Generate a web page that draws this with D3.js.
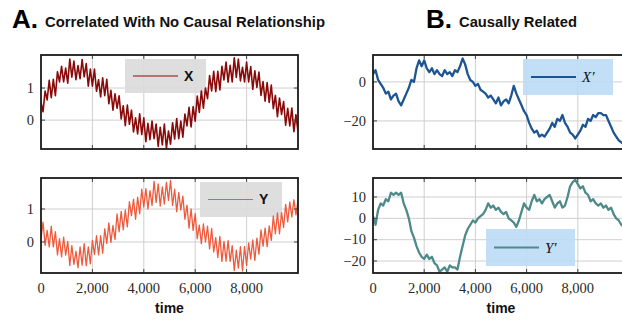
<!DOCTYPE html>
<html><head><meta charset="utf-8">
<script src="https://cdn.jsdelivr.net/npm/d3@7"></script>
<style>body{margin:0;background:#fff}svg{display:block}</style>
</head><body>
<svg id="c" width="622" height="323"></svg>
<script>
// ---- data ----
const stepXY = 80;     // sampling interval of X and Y (time units)
const stepWalk = 100;  // sampling interval of X' and Y'
const timeMax = 10000;
const seriesX = [0.55,0.26,0.91,0.63,1.24,0.70,1.27,0.76,1.51,1.19,1.68,1.19,1.62,1.15,1.90,1.34,1.84,1.26,1.70,1.29,
1.89,1.35,1.76,1.06,1.59,1.06,1.59,0.90,1.26,0.72,1.32,0.76,1.27,0.51,0.93,0.31,0.82,0.37,0.76,0.04,
0.45,-0.17,0.47,-0.13,0.31,-0.37,0.07,-0.43,0.20,-0.45,0.07,-0.67,-0.10,-0.61,-0.03,-0.58,-0.12,-0.82,-0.22,-0.77,
-0.12,-0.88,-0.34,-0.75,-0.08,-0.59,0.05,-0.58,-0.03,-0.53,0.19,-0.18,0.40,-0.21,0.42,-0.03,0.75,0.24,0.91,0.37,
1.00,0.67,1.39,0.91,1.52,0.89,1.52,0.94,1.68,1.25,1.81,1.18,1.71,1.19,1.94,1.33,1.90,1.22,1.65,1.19,
1.81,1.19,1.67,0.96,1.54,1.02,1.50,0.77,1.20,0.59,1.17,0.55,1.09,0.36,0.77,0.11,0.69,0.18,0.58,-0.16,
0.37,-0.18,0.38,-0.36,0.17,-0.35];
const seriesY = [0.10,0.60,-0.10,0.35,-0.15,0.48,-0.15,0.31,-0.39,0.10,-0.45,0.15,-0.40,0.02,-0.71,-0.11,-0.68,-0.28,-0.78,-0.15,
-0.70,-0.05,-0.72,-0.15,-0.66,0.05,-0.38,0.19,-0.39,0.19,-0.34,0.40,-0.04,0.58,-0.01,0.50,0.08,0.85,0.31,0.93,
0.37,0.97,0.46,1.22,0.80,1.30,0.69,1.36,0.86,1.60,1.06,1.62,1.00,1.56,1.11,1.84,1.20,1.76,1.09,1.67,
1.15,1.81,1.26,1.87,1.11,1.60,0.92,1.50,0.97,1.39,0.69,1.12,0.42,1.00,0.35,0.86,0.10,0.51,-0.05,0.55,
0.00,0.48,-0.21,0.41,-0.30,0.13,-0.47,0.17,-0.59,0.02,-0.58,0.04,-0.59,-0.11,-0.87,-0.25,-0.79,-0.14,-0.88,-0.14,
-0.71,-0.03,-0.52,0.06,-0.56,0.12,-0.37,0.37,-0.13,0.42,-0.14,0.49,0.05,0.79,0.25,0.88,0.25,0.89,0.44,1.14,
0.61,1.21,0.76,1.28,0.82,1.26];
const seriesXp = [4,6,1,-1,-3,-6,-5,-9,-7,-6,-10,-12,-9,-6,-3,1,0,7,11,8,
11,7,5,7,4,6,4,3,6,4,5,3,6,5,8,12,9,4,1,0,
-2,-1,-4,-5,-6,-8,-7,-9,-11,-8,-12,-10,-9,-11,-7,-2,-6,-9,-12,-15,
-17,-21,-24,-26,-25,-28,-27,-28,-26,-24,-21,-23,-19,-20,-17,-21,-23,-26,-27,-29,
-27,-25,-22,-23,-19,-20,-17,-18,-16,-16,-17,-17,-20,-23,-26,-28,-30,-31,-32,-31,-32];
const seriesYp = [1,-3,4,7,6,9,8,12,11,12,11,12,7,4,0,-6,-9,-13,-16,-18,
-19,-17,-19,-18,-21,-22,-25,-24,-23,-25,-22,-23,-23,-24,-18,-13,-8,-5,-3,-1,
-2,0,1,2,4,7,5,6,4,5,3,2,3,0,-1,-2,-4,-1,3,7,
5,4,8,11,8,9,7,9,10,11,8,5,7,8,5,6,10,15,17,18,
16,14,15,12,11,8,9,7,6,7,5,6,4,5,2,0,-1,-3,-4,-4,-5];
const timeTicks = [0,2000,4000,6000,8000];
const ticksX = [0,1], ticksY = [0,1], ticksXp = [-20,0], ticksYp = [-20,-10,0,10];
const domainX = [-0.9,2.03], domainY = [-0.94,1.94], domainXp = [-34.4,13.8], domainYp = [-25.6,18.9];
const labels = ["X","Y","X\u2032","Y\u2032"];
const titles = [["A.","Correlated With No Causal Relationship"],["B.","Causally Related"]];
const axisLabel = "time";

// ---- layout ----
const svg = d3.select("#c");
const colA = [41,298], colB = [373,629];
const rowTop = [55,149], rowBot = [178,273];
const panels = [
  {data:seriesX, step:stepXY, dom:domainX, ticks:ticksX, col:colA, row:rowTop, color:"#8a0a0a", sw:1.6, lw:1, label:labels[0], legend:{x:125,y:59,w:81,h:34}, bg:"#dadada", serif:false},
  {data:seriesY, step:stepXY, dom:domainY, ticks:ticksY, col:colA, row:rowBot, color:"#ef5a3c", sw:1.3, lw:1, label:labels[1], legend:{x:200,y:182,w:82,h:35}, bg:"#dadada", serif:false},
  {data:seriesXp, step:stepWalk, dom:domainXp, ticks:ticksXp, col:colB, row:rowTop, color:"#1d5592", sw:2.3, lw:2, label:labels[2], legend:{x:523,y:59,w:90,h:36}, bg:"#bddcf7", serif:true},
  {data:seriesYp, step:stepWalk, dom:domainYp, ticks:ticksYp, col:colB, row:rowBot, color:"#4f8a8b", sw:2.3, lw:2, label:labels[3], legend:{x:486,y:229,w:89,h:37}, bg:"#bddcf7", serif:true},
];
const fmt = d3.format(",");
const defs = svg.append("defs");

panels.forEach((p,i)=>{
  const x = d3.scaleLinear().domain([0,timeMax]).range(p.col);
  const y = d3.scaleLinear().domain(p.dom).range([p.row[1],p.row[0]]);
  const g = svg.append("g");
  const cid = "clip"+i;
  defs.append("clipPath").attr("id",cid).append("rect")
    .attr("x",p.col[0]).attr("y",p.row[0]).attr("width",p.col[1]-p.col[0]).attr("height",p.row[1]-p.row[0]);
  // grid
  g.append("g").selectAll("line").data(timeTicks.slice(1)).join("line")
    .attr("x1",d=>x(d)).attr("x2",d=>x(d)).attr("y1",p.row[0]).attr("y2",p.row[1])
    .attr("stroke","#cfcfcf").attr("stroke-width",1);
  g.append("g").selectAll("line").data(p.ticks).join("line")
    .attr("x1",p.col[0]).attr("x2",p.col[1]).attr("y1",d=>y(d)).attr("y2",d=>y(d))
    .attr("stroke","#cfcfcf").attr("stroke-width",1);
  // legend box
  g.append("rect").attr("x",p.legend.x).attr("y",p.legend.y).attr("width",p.legend.w).attr("height",p.legend.h)
    .attr("fill",p.bg).attr("opacity",0.9);
  // series
  const line = d3.line().x((d,k)=>x(k*p.step)).y(d=>y(d));
  g.append("path").datum(p.data).attr("d",line).attr("fill","none")
    .attr("stroke",p.color).attr("stroke-width",p.sw).attr("stroke-linejoin","round")
    .attr("clip-path",`url(#${cid})`);
  // legend content
  const ly = p.legend.y + p.legend.h/2;
  g.append("line").attr("x1",p.legend.x+8).attr("x2",p.legend.x+53).attr("y1",ly).attr("y2",ly)
    .attr("stroke",p.color).attr("stroke-width",p.lw);
  g.append("text").attr("x",p.legend.x+59).attr("y",ly).attr("dy","0.35em")
    .attr("font-family",p.serif?"Liberation Serif, serif":"Liberation Sans, Arial, sans-serif")
    .attr("font-style",p.serif?"italic":"normal").attr("font-weight",p.serif?"normal":"bold")
    .attr("font-size",p.serif?15:14).attr("fill","#111").text(p.label);
  // inside tick marks
  const tk = g.append("g").attr("stroke","#444").attr("stroke-width",1);
  timeTicks.slice(1).forEach(t=>{
    tk.append("line").attr("x1",x(t)).attr("x2",x(t)).attr("y1",p.row[1]).attr("y2",p.row[1]-4);
    tk.append("line").attr("x1",x(t)).attr("x2",x(t)).attr("y1",p.row[0]).attr("y2",p.row[0]+4);
  });
  p.ticks.forEach(v=>{
    tk.append("line").attr("x1",p.col[0]).attr("x2",p.col[0]+4).attr("y1",y(v)).attr("y2",y(v));
    tk.append("line").attr("x1",p.col[1]).attr("x2",p.col[1]-4).attr("y1",y(v)).attr("y2",y(v));
  });
  // frame
  g.append("rect").attr("x",p.col[0]).attr("y",p.row[0]).attr("width",p.col[1]-p.col[0]).attr("height",p.row[1]-p.row[0])
    .attr("fill","none").attr("stroke","#1a1a1a").attr("stroke-width",1.8);
  // y tick labels
  g.append("g").selectAll("text").data(p.ticks).join("text")
    .attr("x",p.col[0]-7).attr("y",d=>y(d)).attr("dy","0.33em").attr("text-anchor","end")
    .attr("font-family","Liberation Serif, serif").attr("font-size",14.5).attr("fill","#2a2a2a")
    .text(d=>fmt(d).replace("-","\u2212"));
  // x tick labels for bottom row
  if (p.row===rowBot){
    g.append("g").selectAll("text").data(timeTicks).join("text")
      .attr("x",d=>x(d)).attr("y",293).attr("text-anchor","middle")
      .attr("font-family","Liberation Serif, serif").attr("font-size",14.5).attr("fill","#2a2a2a")
      .text(d=>fmt(d));
    g.append("text").attr("x",(p.col[0]+p.col[1])/2).attr("y",313).attr("text-anchor","middle")
      .attr("font-family","Liberation Sans, Arial, sans-serif").attr("font-weight","bold").attr("font-size",14)
      .attr("fill","#111").text(axisLabel);
  }
});

// titles
const tpos = [{x:12, sx:45, sw:280},{x:426, sx:459, sw:118}];
titles.forEach((t,i)=>{
  svg.append("text").attr("x",tpos[i].x).attr("y",28).attr("font-family","Liberation Sans, Arial, sans-serif")
    .attr("font-weight","bold").attr("font-size",26).attr("fill","#000").text(t[0]);
  svg.append("text").attr("x",tpos[i].sx).attr("y",27).attr("font-family","Liberation Sans, Arial, sans-serif")
    .attr("font-weight","bold").attr("font-size",14.5).attr("fill","#111")
    .attr("textLength",tpos[i].sw).attr("lengthAdjust","spacingAndGlyphs").text(t[1]);
});
</script>
</body></html>
